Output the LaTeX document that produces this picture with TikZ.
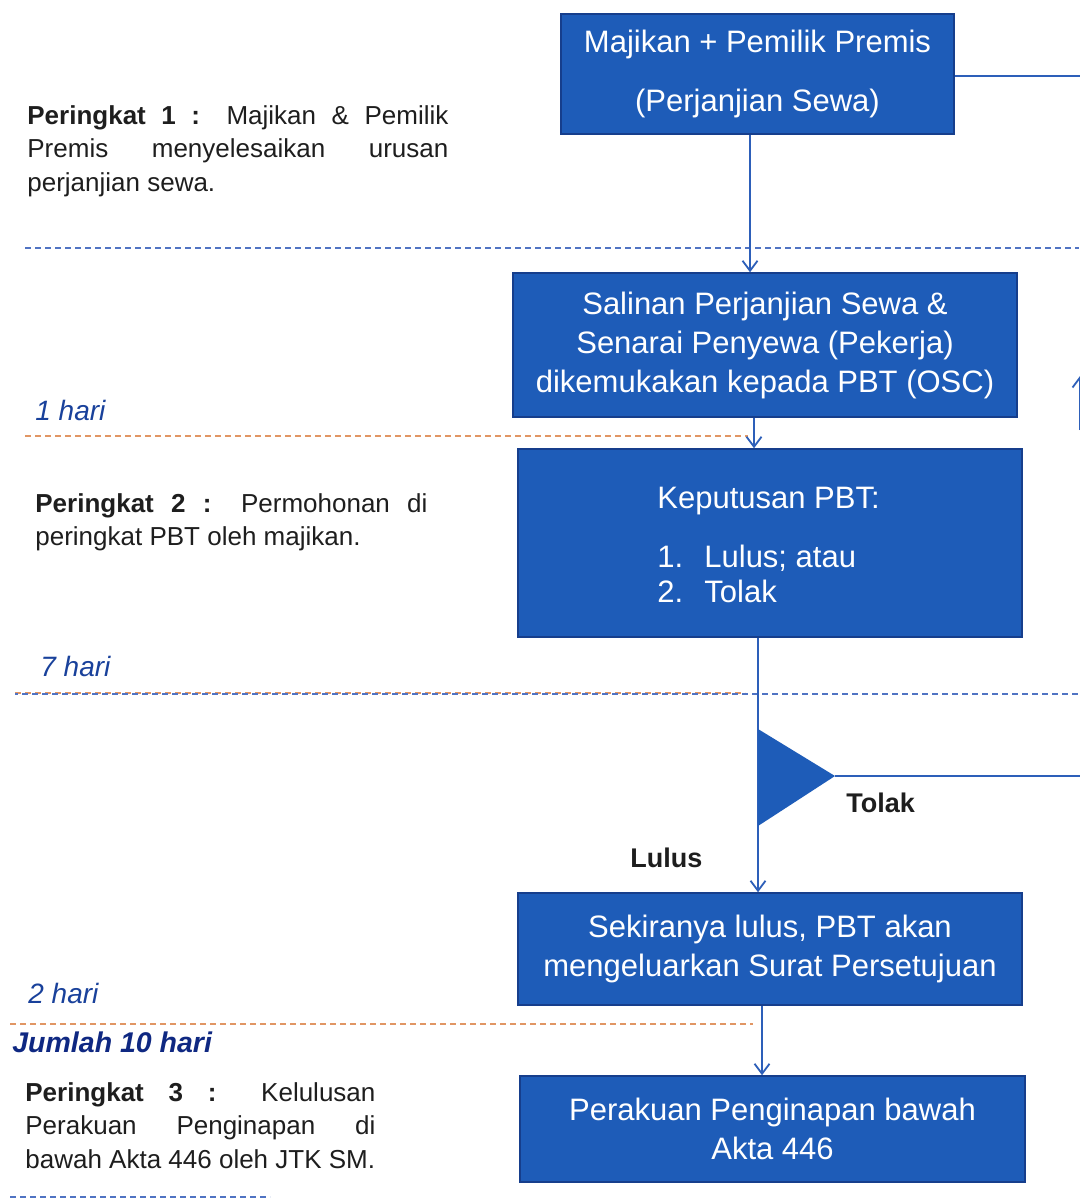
\documentclass[tikz,border=0pt]{standalone}
\usepackage{fontspec}
\setmainfont{Liberation Sans}
\usepackage{tikz}
\usetikzlibrary{arrows.meta}

\definecolor{boxblue}{RGB}{30,92,184}
\definecolor{boxedge}{RGB}{22,62,140}
\definecolor{lineblue}{RGB}{45,95,185}
\definecolor{dashblue}{RGB}{80,115,195}
\definecolor{dashorange}{RGB}{225,150,100}
\definecolor{hariblue}{RGB}{25,65,155}
\definecolor{navy}{RGB}{15,40,130}
\definecolor{ink}{RGB}{30,30,30}

\begin{document}
\begin{tikzpicture}[x=1pt, y=-1pt, thick,
  >={Straight Barb[length=10pt,width=15pt,line width=1.8pt]},
  box/.style={draw=boxedge, line width=1.5pt, fill=boxblue, text=white, align=center,
    inner sep=0pt, font=\fontsize{31}{39}\selectfont},
  side/.style={anchor=base west, align=left, inner sep=0pt, text=ink,
    font=\fontsize{26}{33.5}\selectfont},
  hari/.style={anchor=base west, inner sep=0pt, text=hariblue,
    font=\fontsize{28}{34}\selectfont\itshape},
  pick/.style={anchor=base west, inner sep=0pt, text=ink,
    font=\fontsize{27}{32}\selectfont\bfseries},
  flow/.style={draw=lineblue, line width=1.4pt},
  sep/.style={line width=1.3pt, dash pattern=on 6pt off 4pt}]
  \useasboundingbox (0,0) rectangle (1079,1199);
  \fill[white] (0,0) rectangle (1079,1199);

  \node[box, minimum width=393pt, minimum height=120pt, font=\fontsize{31}{58.4}\selectfont] (A) at (757.5,74) {Majikan + Pemilik Premis\\(Perjanjian Sewa)};
  \node[box, minimum width=504pt, minimum height=144pt] (B) at (765,345) {Salinan Perjanjian Sewa \&\\Senarai Penyewa (Pekerja)\\dikemukakan kepada PBT (OSC)};
  \node[box, minimum width=504pt, minimum height=188pt] (C) at (770,543) {};
  \node[anchor=base west, inner sep=0pt, text=white, align=left, font=\fontsize{31}{35}\selectfont] (C1) at (657,602) {Keputusan PBT:\\[24pt]\makebox[47pt][l]{1.}Lulus; atau\\\makebox[47pt][l]{2.}Tolak};
  \node[box, minimum width=504pt, minimum height=112pt] (D) at (770,949) {Sekiranya lulus, PBT akan\\mengeluarkan Surat Persetujuan};
  \node[box, minimum width=505pt, minimum height=106pt] (E) at (772.5,1129) {Perakuan Penginapan bawah\\Akta 446};

  % peringkat
  \node[side] (P1) at (27,191) {\makebox[421pt][s]{\textbf{Peringkat 1 :} Majikan \& Pemilik}\\\makebox[421pt][s]{Premis menyelesaikan urusan}\\perjanjian sewa.};
  \node[side] (P2) at (35,545.5) {\makebox[392pt][s]{\textbf{Peringkat 2 :} Permohonan di}\\peringkat PBT oleh majikan.};
  \node[side] (P3) at (25,1168) {\makebox[350pt][s]{\textbf{Peringkat 3 :} Kelulusan}\\\makebox[350pt][s]{Perakuan Penginapan di}\\bawah Akta 446 oleh JTK SM.};

  \node[hari] (H1) at (35,420) {1 hari};
  \node[hari] (H7) at (40,676) {7 hari};
  \node[hari] (H2) at (28,1003) {2 hari};
  \node[hari, text=navy, font=\fontsize{28.5}{34}\selectfont\bfseries\itshape] (J) at (12,1052) {Jumlah 10 hari};

  \node[pick] (TL) at (846,812) {Tolak};
  \node[pick] (LL) at (630,867) {Lulus};

  \draw[sep, dashblue] (25,248) -- (1079,248);
  \draw[sep, dashorange] (25,436) -- (748,436);
  \draw[sep, dashorange] (15,693) -- (745,693);
  \draw[sep, dashblue, dash phase=3pt] (15,694) -- (1079,694);
  \draw[sep, dashorange] (10,1024) -- (753,1024);
  \draw[sep, dashblue] (10,1197) -- (270,1197);

  \draw[flow, ->] ([xshift=-7.5pt]A.south) to ([xshift=-15pt]B.north);
  \draw[flow, ->] ([xshift=-11pt]B.south) to ([xshift=-16pt]C.north);
  \draw[flow, ->] ([xshift=-12pt]C.south) to ([xshift=-12pt]D.north);
  \draw[flow, ->] ([xshift=-8pt]D.south) to ([xshift=-10.5pt]E.north);

  \fill[boxblue] (758,729) -- (758,826) -- (835,776) -- cycle;
  \coordinate (T) at (835,776);
  \coordinate (T2) at (1085,776);
  \draw[flow] (T) to (T2);

  \coordinate (A2) at (1085,76);
  \draw[flow] ([yshift=-2pt]A.east) to (A2);
  \coordinate (R1) at (1080,430);
  \coordinate (R2) at (1080,376);
  \draw[flow, ->] (R1) to (R2);
%  \draw[flow] (T2) to (A2);
\end{tikzpicture}
\end{document}
